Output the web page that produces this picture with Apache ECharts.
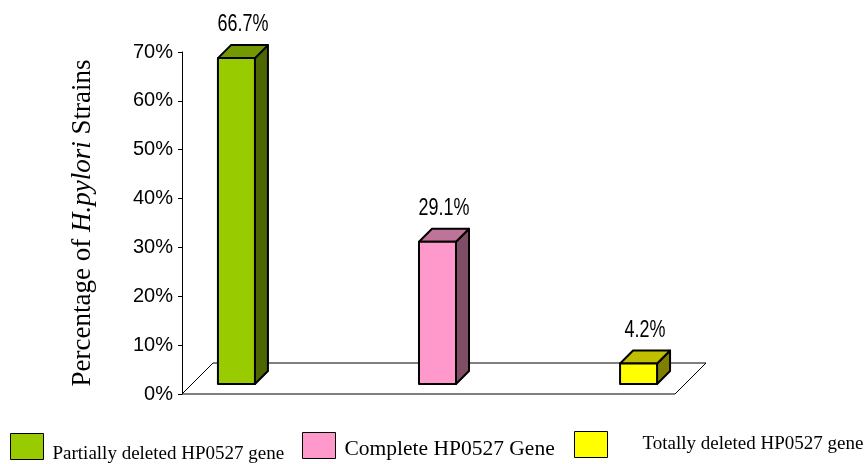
<!DOCTYPE html>
<html>
<head>
<meta charset="utf-8">
<script src="https://cdn.jsdelivr.net/npm/echarts@6/dist/echarts.min.js"></script>
<style>
  html, body { margin: 0; padding: 0; background: #fff; }
  #chart { width: 864px; height: 464px; }
</style>
</head>
<body>
<div id="chart"></div>
<script>
// categories and values
const categories = ["Partially deleted HP0527 gene", "Complete HP0527 Gene", "Totally deleted HP0527 gene"];
const values = [66.7, 29.1, 4.2];
const valueLabels = ["66.7%", "29.1%", "4.2%"];
const yTicks = [0, 10, 20, 30, 40, 50, 60, 70];

// excel style 3d shading : front / top / side
const frontColors = ["#99CC00", "#FF99CC", "#FFFF00"];
const topColors = ["#739900", "#BF7399", "#BFBF00"];
const sideColors = ["#4D6600", "#804D66", "#808000"];

const xMin = -0.221, xMax = 2.231;

var dom = document.getElementById("chart");
var myChart = echarts.init(dom, null, { renderer: "canvas" });

// bar offsets inside the floor (pixels)
const FRONT_DX = 10, FRONT_DY = -10;
const DEPTH_DX = 13, DEPTH_DY = -13;
const HALF_W = 18.5;
const FLOOR_DX = 31, FLOOR_DY = -31;

var sans = '"Liberation Sans", Arial, sans-serif';
var serif = '"Liberation Serif", "Times New Roman", serif';

function renderBar(params, api) {
  var i = api.value(2);
  var base = api.coord([api.value(0), 0]);
  var top = api.coord([api.value(0), api.value(1)]);
  var l = base[0] - HALF_W + FRONT_DX;
  var r = base[0] + HALF_W + FRONT_DX;
  var t = top[1] + FRONT_DY;
  var b = base[1] + FRONT_DY;
  var border = { stroke: "#000", lineWidth: 2, lineJoin: "round" };
  return {
    type: "group",
    children: [
      {
        type: "polygon",
        shape: { points: [[r, t], [r + DEPTH_DX, t + DEPTH_DY], [r + DEPTH_DX, b + DEPTH_DY], [r, b]] },
        style: Object.assign({ fill: sideColors[i] }, border)
      },
      {
        type: "polygon",
        shape: { points: [[l, t], [l + DEPTH_DX, t + DEPTH_DY], [r + DEPTH_DX, t + DEPTH_DY], [r, t]] },
        style: Object.assign({ fill: topColors[i] }, border)
      },
      {
        type: "rect",
        shape: { x: l, y: t, width: r - l, height: b - t },
        style: Object.assign({ fill: frontColors[i] }, border)
      },
      {
        type: "text",
        x: (l + r) / 2 + DEPTH_DX / 2,
        y: t + DEPTH_DY - 20,
        scaleX: 0.78,
        style: {
          text: valueLabels[i],
          x: 0,
          y: 0,
          align: "center",
          verticalAlign: "middle",
          fill: "#000",
          font: "23px " + sans
        }
      }
    ]
  };
}

function renderFloor(params, api) {
  var p0 = api.coord([xMin, 0]);
  var p1 = api.coord([xMax, 0]);
  return {
    type: "polygon",
    shape: { points: [p0, p1, [p1[0] + FLOOR_DX, p1[1] + FLOOR_DY], [p0[0] + FLOOR_DX, p0[1] + FLOOR_DY]] },
    style: { fill: "#fff", stroke: "#000", lineWidth: 1 }
  };
}

var series = [
  {
    type: "custom",
    name: "floor",
    renderItem: renderFloor,
    data: [[xMin, 0]],
    silent: true,
    z: 1
  }
];
categories.forEach(function (c, i) {
  series.push({
    type: "custom",
    name: c,
    renderItem: renderBar,
    itemStyle: { color: frontColors[i] },
    data: [[i, values[i], i]],
    z: 3
  });
});

function legendAt(i, left, top, size, padTop, padLeft) {
  return {
    data: [{ name: categories[i], itemStyle: { color: frontColors[i], borderColor: "#000", borderWidth: 1 } }],
    left: left,
    top: top,
    icon: "rect",
    itemWidth: 33,
    itemHeight: 26,
    selectedMode: false,
    formatter: function (name) { return "{t|" + name + "}"; },
    textStyle: {
      rich: {
        t: { fontFamily: serif, fontSize: size, color: "#000", padding: [padTop, 0, 0, padLeft] }
      }
    }
  };
}

var option = {
  animation: false,
  grid: { left: 182, right: 189, top: 52, bottom: 70 },
  xAxis: {
    type: "value",
    min: xMin,
    max: xMax,
    show: false
  },
  yAxis: {
    type: "value",
    min: yTicks[0],
    max: yTicks[yTicks.length - 1],
    interval: 10,
    axisLine: { show: true, onZero: false, lineStyle: { color: "#000", width: 1 } },
    axisTick: { show: true, length: 4, lineStyle: { color: "#000" } },
    splitLine: { show: false },
    axisLabel: {
      formatter: "{value}%",
      margin: 9,
      color: "#000",
      fontSize: 20,
      fontFamily: sans
    },
    name: "{a|Percentage of }{b|H.pylori}{a| Strains}",
    nameLocation: "middle",
    nameGap: 86,
    nameRotate: 90,
    nameTextStyle: {
      rich: {
        a: { fontFamily: serif, fontSize: 27, color: "#000" },
        b: { fontFamily: serif, fontSize: 27, fontStyle: "italic", color: "#000" }
      }
    }
  },
  legend: [
    legendAt(0, 5, 428, 19, 16, 4),
    legendAt(1, 297, 427, 21.5, 8, 4),
    legendAt(2, 569, 426, 19, 0, 30)
  ],
  series: series
};

myChart.setOption(option);
window.addEventListener("resize", myChart.resize);
</script>
</body>
</html>
